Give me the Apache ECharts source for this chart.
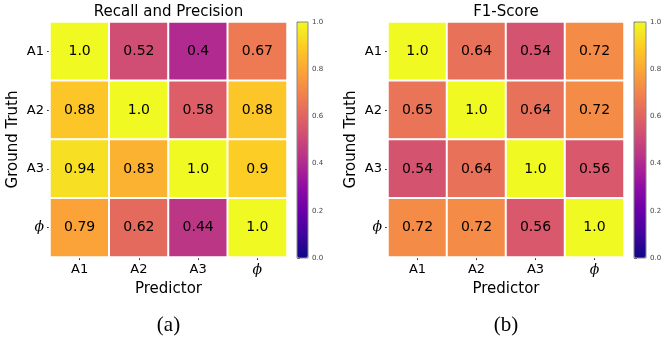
<!DOCTYPE html>
<html>
<head>
<meta charset="utf-8">
<script src="https://cdn.jsdelivr.net/npm/echarts@6/dist/echarts.min.js"></script>
<style>
  html, body { margin: 0; padding: 0; background: #fff; }
  #chart { width: 665px; height: 343px; }
</style>
</head>
<body>
<div id="chart"></div>
<script>
// 坐标轴类别
const predictors = ['A1', 'A2', 'A3', 'ϕ']
const groundTruth = ['A1', 'A2', 'A3', 'ϕ']
const colorbarTicks = [0, 0.2, 0.4, 0.6, 0.8, 1.0]

// 行 = Ground Truth, 列 = Predictor
const recallPrecision = [
  [1.0, 0.52, 0.4, 0.67],
  [0.88, 1.0, 0.58, 0.88],
  [0.94, 0.83, 1.0, 0.9],
  [0.79, 0.62, 0.44, 1.0],
]
const f1Score = [
  [1.0, 0.64, 0.54, 0.72],
  [0.65, 1.0, 0.64, 0.72],
  [0.54, 0.64, 1.0, 0.56],
  [0.72, 0.72, 0.56, 1.0],
]

// plasma 色带
const plasma = ['#0d0887', '#41049d', '#6a00a8', '#8f0da4', '#b12a90', '#cc4778',
  '#e16462', '#f2844b', '#fca636', '#fcce25', '#f0f921']

const FONT = 'DejaVu Sans'

const toCells = (rows) => {
  const out = []
  rows.forEach((row, i) => row.forEach((v, j) => out.push([j, i, v])))
  return out
}

const catLabel = (v) => (v === 'ϕ' ? '{phi|ϕ}' : v)
const richPhi = { phi: { fontFamily: 'DejaVu Serif', fontStyle: 'italic', fontSize: 14, color: '#000' } }

const panels = [
  { left: 50, width: 237, cbLeft: 297, cbWidth: 11, title: 'Recall and Precision', sub: '(a)', data: recallPrecision },
  { left: 388, width: 236, cbLeft: 634, cbWidth: 12, title: 'F1-Score', sub: '(b)', data: f1Score },
]
const TOP = 22
const HEIGHT = 235

const option = {
  backgroundColor: '#fff',
  animation: false,
  title: [],
  grid: [],
  xAxis: [],
  yAxis: [],
  visualMap: [],
  series: [],
}

panels.forEach((p, k) => {
  const cx = p.left + p.width / 2
  option.title.push({
    text: p.title, left: cx, top: 5, textAlign: 'center', padding: 0,
    textStyle: { fontFamily: FONT, fontSize: 15, fontWeight: 'normal', color: '#000' },
  })
  option.title.push({
    text: p.sub, left: cx, top: 315, textAlign: 'center', padding: 0,
    textStyle: { fontFamily: 'Liberation Serif', fontSize: 21, fontWeight: 'normal', color: '#000' },
  })

  // 热力图网格
  option.grid.push({
    left: p.left, top: TOP, width: p.width, height: HEIGHT,
    show: true, borderColor: '#999', borderWidth: 1, backgroundColor: 'transparent',
  })
  // 色条网格
  option.grid.push({
    left: p.cbLeft, top: TOP, width: p.cbWidth, height: HEIGHT + 1,
    show: true, borderColor: '#888', borderWidth: 1, backgroundColor: 'transparent', z: 10,
  })

  option.xAxis.push({
    type: 'category', gridIndex: k * 2, data: predictors,
    name: 'Predictor', nameLocation: 'middle', nameGap: 24,
    nameTextStyle: { fontFamily: FONT, fontSize: 15, color: '#000' },
    axisLine: { show: false },
    axisTick: { show: true, alignWithLabel: true, interval: 0, length: 3, lineStyle: { color: '#333' } },
    axisLabel: { interval: 0, fontFamily: FONT, fontSize: 13, color: '#000', margin: 6, formatter: catLabel, rich: richPhi },
    splitLine: { show: false },
  })
  option.xAxis.push({
    type: 'value', gridIndex: k * 2 + 1, show: false, min: 0, max: 1,
  })

  option.yAxis.push({
    type: 'category', gridIndex: k * 2, data: groundTruth, inverse: true,
    name: 'Ground Truth', nameLocation: 'middle', nameGap: 29, nameRotate: 90,
    nameTextStyle: { fontFamily: FONT, fontSize: 15, color: '#000' },
    axisLine: { show: false },
    axisTick: { show: true, alignWithLabel: true, interval: 0, length: 3, lineStyle: { color: '#333' } },
    axisLabel: { interval: 0, fontFamily: FONT, fontSize: 13, color: '#000', margin: 6, formatter: catLabel, rich: richPhi },
    splitLine: { show: false },
  })
  option.yAxis.push({
    type: 'value', gridIndex: k * 2 + 1, position: 'right', min: 0, max: 1, interval: 0.2,
    axisLine: { show: false },
    axisTick: { show: true, length: 3, lineStyle: { color: '#555' } },
    axisLabel: { fontFamily: FONT, fontSize: 7, color: '#444', margin: 4, formatter: (v) => v.toFixed(1) },
    splitLine: { show: false },
  })

  option.visualMap.push({
    type: 'continuous', seriesIndex: k, min: 0, max: 1,
    calculable: false, hoverLink: false, realtime: false,
    orient: 'vertical', left: p.cbLeft, top: TOP, padding: 0,
    itemWidth: p.cbWidth, itemHeight: HEIGHT + 1,
    text: null, showLabel: false,
    inRange: { color: plasma },
  })

  option.series.push({
    type: 'heatmap', xAxisIndex: k * 2, yAxisIndex: k * 2,
    data: toCells(p.data),
    itemStyle: { borderColor: '#fff', borderWidth: 2 },
    label: {
      show: true, fontFamily: FONT, fontSize: 14, color: '#000',
      formatter: (d) => (d.value[2] === 1 ? '1.0' : String(d.value[2])),
    },
    emphasis: { disabled: true },
  })
})

const chart = echarts.init(document.getElementById('chart'), null, { renderer: 'canvas' })
chart.setOption(option)
window.addEventListener('resize', () => chart.resize())
</script>
</body>
</html>
